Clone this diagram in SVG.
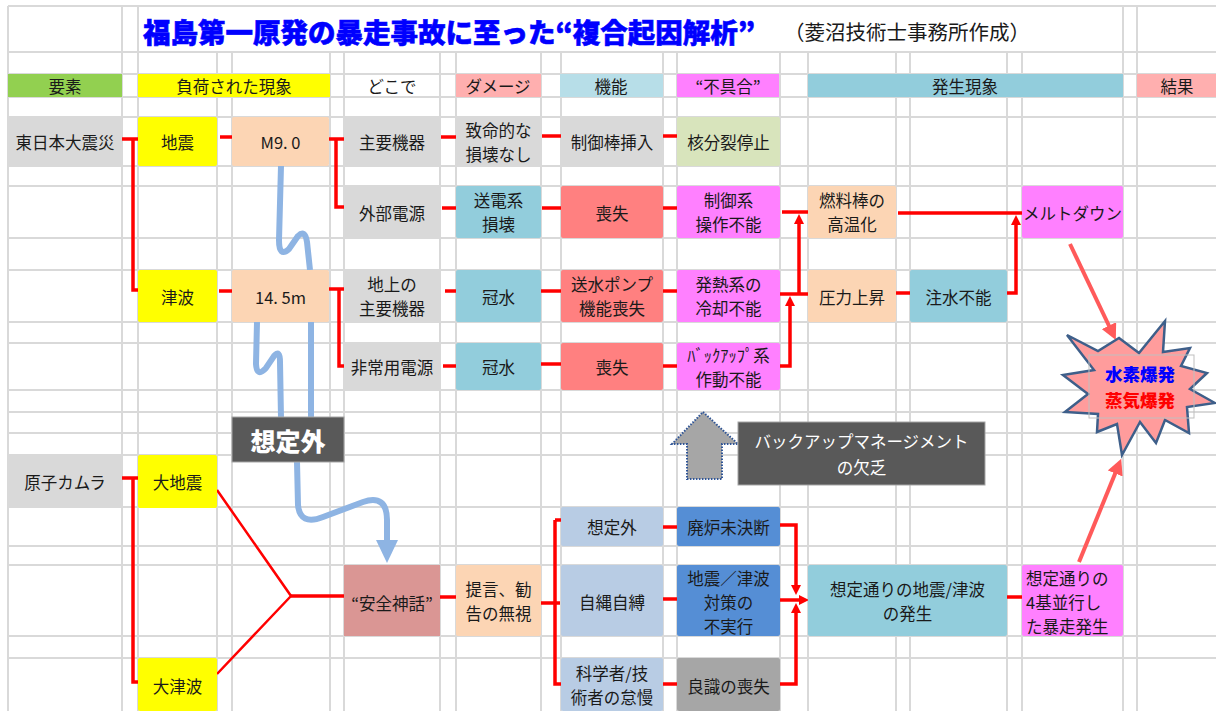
<svg xmlns="http://www.w3.org/2000/svg" width="1216" height="711" viewBox="0 0 1216 711">
<defs>
<style>
.grid line{stroke:#D9D9D9;stroke-width:2}
.t{font-family:"Noto Sans CJK JP","Noto Sans CJK SC",sans-serif;font-size:16.5px;fill:#1a1a1a;text-anchor:middle;dominant-baseline:central}
.c{fill:none;stroke:#FF0000;stroke-width:3.5}
.d{fill:none;stroke:#FF0000;stroke-width:2.5}
.w{fill:none;stroke:#8EB4E3;stroke-width:6}
.p{fill:none;stroke:#FF5A5A;stroke-width:4}
.gray{fill:#D9D9D9}.yel{fill:#FFFF00}.peach{fill:#FCD5B4}.grn{fill:#D8E4BC}.blu{fill:#92CDDC}.sal{fill:#FF8080}.mag{fill:#FF80FF}.lsb{fill:#B8CCE4}.mblu{fill:#558ED5}.dgr{fill:#A6A6A6}
</style>
<marker id="ar" markerUnits="userSpaceOnUse" viewBox="0 0 10 10" refX="4" refY="5" markerWidth="10" markerHeight="10" orient="auto"><path d="M0,0 L10,5 L0,10 z" fill="#FF0000"/></marker>
<marker id="ap" markerUnits="userSpaceOnUse" viewBox="0 0 10 10" refX="3" refY="5" markerWidth="16" markerHeight="16" orient="auto"><path d="M0,0 L10,5 L0,10 z" fill="#FF5A5A"/></marker>
</defs>
<rect width="1216" height="711" fill="#FFFFFF"/>
<g class="grid">
<line x1="8" y1="6" x2="1216" y2="6"/>
<line x1="8" y1="52" x2="1216" y2="52"/>
<line x1="8" y1="74" x2="1216" y2="74"/>
<line x1="8" y1="97" x2="1216" y2="97"/>
<line x1="8" y1="117" x2="1216" y2="117"/>
<line x1="8" y1="166" x2="1216" y2="166"/>
<line x1="8" y1="186" x2="1216" y2="186"/>
<line x1="8" y1="238" x2="1216" y2="238"/>
<line x1="8" y1="270" x2="1216" y2="270"/>
<line x1="8" y1="322" x2="1216" y2="322"/>
<line x1="8" y1="343" x2="1216" y2="343"/>
<line x1="8" y1="390" x2="1216" y2="390"/>
<line x1="8" y1="412" x2="1216" y2="412"/>
<line x1="8" y1="433" x2="1216" y2="433"/>
<line x1="8" y1="455" x2="1216" y2="455"/>
<line x1="8" y1="507" x2="1216" y2="507"/>
<line x1="8" y1="546" x2="1216" y2="546"/>
<line x1="8" y1="565" x2="1216" y2="565"/>
<line x1="8" y1="636" x2="1216" y2="636"/>
<line x1="8" y1="658" x2="1216" y2="658"/>
<line x1="8" y1="6" x2="8" y2="711"/>
<line x1="122" y1="6" x2="122" y2="711"/>
<line x1="138" y1="6" x2="138" y2="711"/>
<line x1="217" y1="52" x2="217" y2="711"/>
<line x1="232" y1="52" x2="232" y2="711"/>
<line x1="330" y1="52" x2="330" y2="711"/>
<line x1="344" y1="52" x2="344" y2="711"/>
<line x1="440" y1="52" x2="440" y2="711"/>
<line x1="456" y1="52" x2="456" y2="711"/>
<line x1="541" y1="52" x2="541" y2="711"/>
<line x1="561" y1="52" x2="561" y2="711"/>
<line x1="663" y1="52" x2="663" y2="711"/>
<line x1="677" y1="52" x2="677" y2="711"/>
<line x1="780" y1="52" x2="780" y2="711"/>
<line x1="808" y1="52" x2="808" y2="711"/>
<line x1="896" y1="52" x2="896" y2="711"/>
<line x1="910" y1="52" x2="910" y2="711"/>
<line x1="1007" y1="52" x2="1007" y2="711"/>
<line x1="1022" y1="52" x2="1022" y2="711"/>
<line x1="1123" y1="6" x2="1123" y2="711"/>
<line x1="1137" y1="6" x2="1137" y2="711"/>
</g>
<g id="title">
<text x="143" y="43" font-family="'Noto Sans CJK JP','Noto Sans CJK SC',sans-serif" font-size="27.5" font-weight="900" fill="#0000FF" stroke="#0000FF" stroke-width="0.6">福島第一原発の暴走事故に至った“複合起因解析”</text>
<text x="784" y="40" font-family="'Noto Sans CJK JP','Noto Sans CJK SC',sans-serif" font-size="20.5" fill="#1a1a1a">（菱沼技術士事務所作成）</text>
</g>
<g id="headers">
<g id="h-youso"><rect x="8" y="74" width="114" height="23" fill="#92D050"/><text class="t" x="65" y="86">要素</text></g>
<g id="h-fuka"><rect x="138" y="74" width="192" height="23" fill="#FFFF00"/><text class="t" x="234" y="86">負荷された現象</text></g>
<g id="h-dokode"><text class="t" x="392" y="86">どこで</text></g>
<g id="h-damage"><rect x="456" y="74" width="85" height="23" fill="#FFAFAF"/><text class="t" x="498" y="86">ダメージ</text></g>
<g id="h-kinou"><rect x="560" y="74" width="103" height="23" fill="#B7DEE8"/><text class="t" x="611" y="86">機能</text></g>
<g id="h-fuguai"><rect x="677" y="74" width="102" height="23" fill="#FF80FF"/><text class="t" x="728" y="86">“不具合”</text></g>
<g id="h-hassei"><rect x="808" y="74" width="315" height="23" fill="#92CDDC"/><text class="t" x="965" y="86">発生現象</text></g>
<g id="h-kekka"><rect x="1137" y="74" width="79" height="23" fill="#FFAFAF"/><text class="t" x="1177" y="86">結果</text></g>
</g>
<g id="waves">
<path class="w" d="M281,166 L279,240 Q279,258 289,249 L298,236 Q305,229 307,242 L310,270"/>
<path class="w" d="M257,322 L256,364 Q257,378 266,368 L274,356 Q280,349 280,362 L281,418"/>
<path class="w" d="M311,320 L311,418"/>
<path class="w" d="M297,462 L298,505 Q300,526 323,517 L363,502 Q387,494 387,520 L387,542"/>
<polygon points="376,540 398,540 387,563" fill="#8EB4E3"/>
</g>
<g id="connectors">
<path class="c" d="M122,139 H138 M133,139 V290 H143"/>
<path class="c" d="M220,137 H233"/>
<path class="c" d="M327,139 H345 M336,139 V207 H344"/>
<path class="c" d="M219,291 H232"/>
<path class="c" d="M329,289 H344 M339,289 V366 H344"/>
<path class="c" d="M441,137 H456"/>
<path class="c" d="M542,136 H561"/>
<path class="c" d="M663,136 H677"/>
<path class="c" d="M442,208 H456"/>
<path class="c" d="M542,208 H561"/>
<path class="c" d="M663,208 H677"/>
<path class="c" d="M445,291 H456"/>
<path class="c" d="M541,291 H561"/>
<path class="c" d="M663,291 H677"/>
<path class="c" d="M443,366 H456"/>
<path class="c" d="M541,364 H561"/>
<path class="c" d="M663,366 H677"/>
<path class="c" d="M782,212 H808"/>
<path class="c" d="M780,294 H808"/>
<path class="c" d="M799,294 V220" marker-end="url(#ar)"/>
<path class="c" d="M780,366 H790 V302" marker-end="url(#ar)"/>
<path class="c" d="M898,213 H1022"/>
<path class="c" d="M895,293 H912"/>
<path class="c" d="M1007,293 H1016 V221" marker-end="url(#ar)"/>
<path class="p" d="M1070,244 L1111,330" marker-end="url(#ap)"/>
<path class="p" d="M1079,562 L1117,469" marker-end="url(#ap)"/>
<path class="c" d="M122,478 H138 M133,478 V682 H138"/>
<path class="d" d="M217,490 L291,596 L217,674"/>
<path class="c" d="M291,596 H344"/>
<path class="c" d="M440,597 H456"/>
<path class="c" d="M541,603 H560 M555,520 H565 M555,520 V684 H562"/>
<path class="c" d="M662,527 H677"/>
<path class="c" d="M662,599 H677"/>
<path class="c" d="M662,684 H677"/>
<path class="c" d="M780,525 H796 V589" marker-end="url(#ar)"/>
<path class="c" d="M780,600 H803" marker-end="url(#ar)"/>
<path class="c" d="M780,684 H796 V609" marker-end="url(#ar)"/>
<path class="c" d="M1007,597 H1022"/>
</g>
<g id="n-higashinihon"><rect class="gray" x="8" y="117" width="114" height="49"/><text class="t" x="65" y="141.5">東日本大震災</text></g>
<g id="n-jishin"><rect class="yel" x="138" y="117" width="79" height="49" rx="2"/><text class="t" x="177.5" y="141.5">地震</text></g>
<g id="n-m90"><rect class="peach" x="232" y="117" width="97" height="49" rx="2"/><text class="t" x="280.5" y="141.5">M9. 0</text></g>
<g id="n-shuyokiki"><rect class="gray" x="344" y="117" width="96" height="49"/><text class="t" x="392" y="141.5">主要機器</text></g>
<g id="n-chimeiteki"><rect class="gray" x="456" y="117" width="85" height="49"/><text class="t"><tspan x="498.5" y="129.5">致命的な</tspan><tspan x="498.5" y="153.5">損壊なし</tspan></text></g>
<g id="n-seigyobo"><rect class="gray" x="561" y="117" width="102" height="49"/><text class="t" x="612" y="141.5">制御棒挿入</text></g>
<g id="n-kakubunretsu"><rect class="grn" x="677" y="117" width="103" height="49" rx="2"/><text class="t" x="728.5" y="141.5">核分裂停止</text></g>
<g id="n-gaibudengen"><rect class="gray" x="344" y="186" width="96" height="52"/><text class="t" x="392" y="213">外部電源</text></g>
<g id="n-soudenkei"><rect class="blu" x="456" y="186" width="85" height="52" rx="2"/><text class="t"><tspan x="498.5" y="200">送電系</tspan><tspan x="498.5" y="224">損壊</tspan></text></g>
<g id="n-soshitsu1"><rect class="sal" x="561" y="186" width="102" height="52" rx="2"/><text class="t" x="612" y="213">喪失</text></g>
<g id="n-seigyokei"><rect class="mag" x="677" y="186" width="103" height="52" rx="2"/><text class="t"><tspan x="728.5" y="200">制御系</tspan><tspan x="728.5" y="224">操作不能</tspan></text></g>
<g id="n-nenryobo"><rect class="peach" x="808" y="186" width="88" height="52" rx="2"/><text class="t"><tspan x="852" y="200">燃料棒の</tspan><tspan x="852" y="224">高温化</tspan></text></g>
<g id="n-meltdown"><rect class="mag" x="1022" y="186" width="101" height="52" rx="2"/><text class="t" x="1072.5" y="213">メルトダウン</text></g>
<g id="n-tsunami"><rect class="yel" x="138" y="270" width="79" height="52" rx="2"/><text class="t" x="177.5" y="297">津波</text></g>
<g id="n-145m"><rect class="peach" x="232" y="270" width="97" height="52" rx="2"/><text class="t" x="280.5" y="297">14. 5m</text></g>
<g id="n-chijo"><rect class="gray" x="344" y="270" width="96" height="52"/><text class="t"><tspan x="392" y="284">地上の</tspan><tspan x="392" y="308">主要機器</tspan></text></g>
<g id="n-kansui1"><rect class="blu" x="456" y="270" width="85" height="52" rx="2"/><text class="t" x="498.5" y="297">冠水</text></g>
<g id="n-sosui"><rect class="sal" x="561" y="270" width="102" height="52" rx="2"/><text class="t"><tspan x="612" y="284">送水ポンプ</tspan><tspan x="612" y="308">機能喪失</tspan></text></g>
<g id="n-hatsunetsu"><rect class="mag" x="677" y="270" width="103" height="52" rx="2"/><text class="t"><tspan x="728.5" y="284">発熱系の</tspan><tspan x="728.5" y="308">冷却不能</tspan></text></g>
<g id="n-atsuryoku"><rect class="peach" x="808" y="270" width="88" height="52" rx="2"/><text class="t" x="852" y="297">圧力上昇</text></g>
<g id="n-chusui"><rect class="blu" x="910" y="270" width="97" height="52" rx="2"/><text class="t" x="958.5" y="297">注水不能</text></g>
<g id="n-hijoyo"><rect class="gray" x="344" y="343" width="96" height="47"/><text class="t" x="392" y="367">非常用電源</text></g>
<g id="n-kansui2"><rect class="blu" x="456" y="343" width="85" height="47" rx="2"/><text class="t" x="498.5" y="367">冠水</text></g>
<g id="n-soshitsu2"><rect class="sal" x="561" y="343" width="102" height="47" rx="2"/><text class="t" x="612" y="367">喪失</text></g>
<g id="n-backupkei"><rect class="mag" x="677" y="343" width="103" height="47" rx="2"/><text class="t"><tspan x="728.5" y="354.5">ﾊﾞｯｸｱｯﾌﾟ系</tspan><tspan x="728.5" y="378.5">作動不能</tspan></text></g>
<g id="n-bakuhatsu">
<polygon points="1067,335 1098,351 1119,338 1139,353 1165,321 1163,352 1190,348 1181,366 1207,373 1190,389 1215,403 1187,407 1189,433 1165,420 1156,443 1140,422 1122,455 1117,424 1097,432 1098,414 1065,412 1088,394 1063,375 1094,370" fill="#FF9C9C" stroke="#3E5F8A" stroke-width="2.5" stroke-linejoin="miter"/>
<rect x="1089" y="355" width="105" height="63" fill="none" stroke="#BFBFBF" stroke-width="1"/>
<text text-anchor="middle" dominant-baseline="central" font-family="'Noto Sans CJK JP','Noto Sans CJK SC',sans-serif" font-size="17.5" font-weight="900"><tspan x="1140" y="373" fill="#0000FF">水素爆発</tspan><tspan x="1140" y="399" fill="#FF0000">蒸気爆発</tspan></text>
</g>
<g id="n-soteigai-label"><rect x="232" y="417" width="112" height="45" fill="#595959" stroke="#A6A6A6" stroke-width="1"/><text class="t" x="288" y="439.5" style="fill:#FFFFFF;font-size:25px;font-weight:900">想定外</text></g>
<g id="n-uparrow"><polygon points="703,412 738,444 722,444 722,479 687,479 687,444 672,444" fill="#A6A6A6" stroke="#2F5597" stroke-width="2" stroke-dasharray="1.5 1.5"/></g>
<g id="n-backupmgmt"><rect x="738" y="422" width="247" height="63" fill="#595959" stroke="#A6A6A6" stroke-width="1"/><text class="t" style="fill:#FFFFFF;font-size:16.5px"><tspan x="861.5" y="441">バックアップマネージメント</tspan><tspan x="861.5" y="467">の欠乏</tspan></text></g>
<g id="n-genshimura"><rect class="gray" x="8" y="455" width="114" height="52"/><text class="t" x="65" y="482">原子カムラ</text></g>
<g id="n-daijishin"><rect class="yel" x="138" y="455" width="79" height="53" rx="2"/><text class="t" x="177.5" y="482">大地震</text></g>
<g id="n-daitsunami"><rect class="yel" x="138" y="658" width="79" height="53" rx="2"/><text class="t" x="177.5" y="686">大津波</text></g>
<g id="n-anzenshinwa"><rect x="344" y="565" width="96" height="71" fill="#DA9694"/><text class="t" x="392" y="603">“安全神話”</text></g>
<g id="n-teigen"><rect class="peach" x="456" y="565" width="85" height="71" rx="2"/><text class="t"><tspan x="498.5" y="589">提言、勧</tspan><tspan x="498.5" y="613">告の無視</tspan></text></g>
<g id="n-soteigai"><rect class="lsb" x="561" y="507" width="102" height="39" rx="2"/><text class="t" x="612" y="527">想定外</text></g>
<g id="n-jijojibaku"><rect class="lsb" x="561" y="565" width="102" height="71" rx="2"/><text class="t" x="612" y="602">自縄自縛</text></g>
<g id="n-kagakusha"><rect class="lsb" x="561" y="658" width="102" height="53" rx="2"/><text class="t"><tspan x="612" y="673">科学者/技</tspan><tspan x="612" y="697">術者の怠慢</tspan></text></g>
<g id="n-hairo"><rect class="mblu" x="677" y="507" width="103" height="39" rx="2"/><text class="t" x="728.5" y="527">廃炉未決断</text></g>
<g id="n-taisaku"><rect class="mblu" x="677" y="565" width="103" height="71" rx="2"/><text class="t"><tspan x="728.5" y="578">地震／津波</tspan><tspan x="728.5" y="602">対策の</tspan><tspan x="728.5" y="626">不実行</tspan></text></g>
<g id="n-ryoshiki"><rect class="dgr" x="677" y="658" width="103" height="53" rx="2"/><text class="t" x="728.5" y="686">良識の喪失</text></g>
<g id="n-soteidori"><rect class="blu" x="808" y="565" width="199" height="71" rx="2"/><text class="t"><tspan x="907.5" y="589">想定通りの地震/津波</tspan><tspan x="907.5" y="613">の発生</tspan></text></g>
<g id="n-4ki"><rect class="mag" x="1022" y="565" width="101" height="71" rx="2"/><text class="t" style="text-anchor:start"><tspan x="1026" y="578">想定通りの</tspan><tspan x="1026" y="602">4基並行し</tspan><tspan x="1026" y="626">た暴走発生</tspan></text></g>
</svg>
